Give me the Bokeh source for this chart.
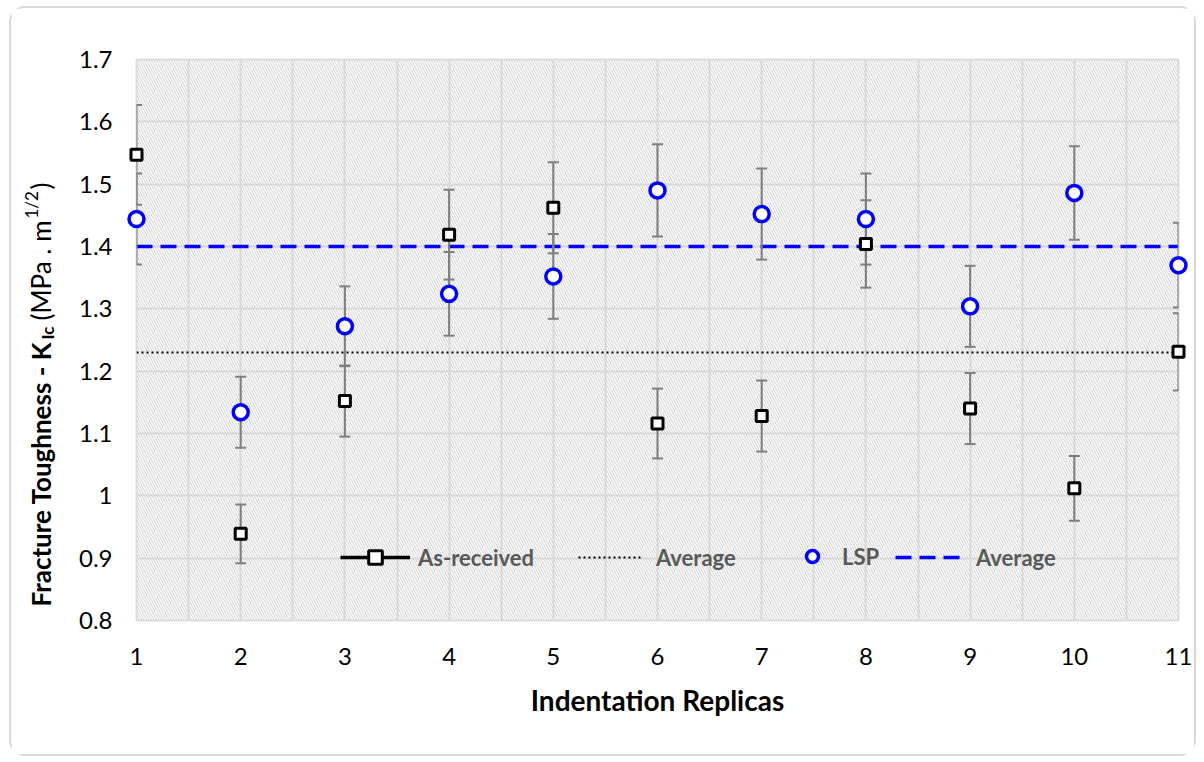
import numpy as np
from bokeh.plotting import figure
from bokeh.models import (ColumnDataSource, Whisker, TeeHead, Legend, LegendItem,
                          FixedTicker, CustomJSTickFormatter, BoxAnnotation)
from bokeh.core.properties import value
from bokeh.embed import file_html
from bokeh.resources import INLINE

# ---------------- data ----------------
replicas = [1, 2, 3, 4, 5, 6, 7, 8, 9, 10, 11]
as_received = [1.547, 0.939, 1.152, 1.419, 1.462, 1.116, 1.128, 1.404, 1.140, 1.012, 1.231]
as_received_err = [0.080, 0.047, 0.057, 0.072, 0.073, 0.056, 0.057, 0.070, 0.057, 0.052, 0.062]
lsp = [1.444, 1.134, 1.272, 1.324, 1.352, 1.490, 1.452, 1.444, 1.304, 1.486, 1.370]
lsp_err = [0.073, 0.057, 0.064, 0.067, 0.068, 0.074, 0.073, 0.073, 0.065, 0.075, 0.068]
avg_as_received = 1.23
avg_lsp = 1.40
y_ticks = [0.8, 0.9, 1.0, 1.1, 1.2, 1.3, 1.4, 1.5, 1.6, 1.7]
legend_labels = ["As-received", "Average", "LSP", "Average"]
x_title = "Indentation Replicas"
y_title_parts = ["Fracture Toughness - K", "Ic", "(MPa . m", "1/2", ")"]

FONT = "Lato"
GRID = "#dedede"

p = figure(width=1187, height=750,
           x_range=(replicas[0], replicas[-1]), y_range=(y_ticks[0], y_ticks[-1]),
           output_backend="svg", toolbar_location=None,
           min_border_left=125, min_border_right=20, min_border_top=51, min_border_bottom=138)
p.styles = {"border": "2px solid #d9d9d9", "border-radius": "16px",
            "margin-left": "9px", "margin-top": "6px"}
p.background_fill_color = "white"
p.border_fill_color = "white"
p.outline_line_color = GRID
p.outline_line_width = 2

# hatched plot area
p.add_layout(BoxAnnotation(fill_alpha=0, line_alpha=0, hatch_pattern="\\",
                           hatch_color="#d0d0d0", hatch_scale=5, hatch_weight=1,
                           level="underlay"))

# grids
p.xgrid.ticker = FixedTicker(ticks=[r + d for r in replicas for d in (0.0, 0.5)])
p.ygrid.ticker = FixedTicker(ticks=y_ticks)
for g in (p.xgrid[0], p.ygrid[0]):
    g.grid_line_color = GRID
    g.grid_line_width = 2

# axes
p.xaxis.ticker = FixedTicker(ticks=replicas)
p.yaxis.ticker = FixedTicker(ticks=y_ticks)
p.yaxis.formatter = CustomJSTickFormatter(code="return String(Math.round(tick*10)/10)")
for ax in (p.xaxis[0], p.yaxis[0]):
    ax.axis_line_color = None
    ax.major_tick_line_color = None
    ax.minor_tick_line_color = None
    ax.major_tick_out = 0
    ax.major_label_text_font = FONT
    ax.major_label_text_font_size = "24px"
    ax.major_label_text_color = "#000000"
p.yaxis[0].major_label_standoff = 24
p.xaxis[0].major_label_standoff = 27
p.xaxis[0].axis_label = x_title
p.xaxis[0].axis_label_text_font = FONT
p.xaxis[0].axis_label_text_font_size = "28px"
p.xaxis[0].axis_label_text_font_style = "bold"
p.xaxis[0].axis_label_text_color = "#000000"
p.xaxis[0].axis_label_standoff = 15

# error bars
src_a = ColumnDataSource(dict(x=replicas, y=as_received,
                              lo=[v - e for v, e in zip(as_received, as_received_err)],
                              hi=[v + e for v, e in zip(as_received, as_received_err)]))
src_l = ColumnDataSource(dict(x=replicas, y=lsp,
                              lo=[v - e for v, e in zip(lsp, lsp_err)],
                              hi=[v + e for v, e in zip(lsp, lsp_err)]))
for src in (src_a, src_l):
    w = Whisker(source=src, base="x", lower="lo", upper="hi", dimension="height",
                line_color="#7f7f7f", line_width=2, level="glyph",
                lower_head=TeeHead(size=11, line_color="#7f7f7f", line_width=2),
                upper_head=TeeHead(size=11, line_color="#7f7f7f", line_width=2))
    p.add_layout(w)

# average lines
avg_a = p.line(x=[replicas[0], replicas[-1]], y=[avg_as_received] * 2,
               line_color="black", line_width=2, line_dash="2 3")
avg_l = p.line(x=[replicas[0], replicas[-1]], y=[avg_lsp] * 2,
               line_color="#0000ff", line_width=3.5, line_dash="16 8")

# markers
sq = p.scatter("x", "y", source=src_a, marker="square", size=11,
               line_color="black", line_width=3, fill_color="white", level="overlay")
ci = p.scatter("x", "y", source=src_l, marker="circle", size=15,
               line_color="#0000ff", line_width=3.5, fill_color="white", level="overlay")
leg_line = p.line(x=[replicas[0]], y=[float("nan")], line_color="black", line_width=3.5)

def add_legend(label, renderers, x, y, gw, gh, standoff):
    lg = Legend(items=[LegendItem(label=label, renderers=renderers)],
                location=(x, y), orientation="horizontal",
                glyph_width=gw, glyph_height=gh, label_standoff=standoff,
                padding=0, margin=0, spacing=0,
                background_fill_alpha=0, border_line_alpha=0,
                label_text_font=FONT, label_text_font_size="22px",
                label_text_font_style="bold", label_text_color="#595959")
    p.add_layout(lg)

add_legend(legend_labels[0], [leg_line, sq], 204, 46, 70, 34, 8)
add_legend(legend_labels[1], [avg_a], 442, 48, 65, 30, 13)
add_legend(legend_labels[2], [ci], 661, 47, 30, 34, 15)
add_legend(legend_labels[3], [avg_l], 759, 48, 70, 30, 11)

# y axis title with subscript / superscript (rotated text pieces, pixel offsets
# from the bottom-left corner of the plot frame)
yt = dict(
    text=y_title_parts,
    size=["26px", "17px", "26px", "17px", "26px"],
    style=["bold", "bold", "normal", "normal", "normal"],
    dx=[-96, -89, -96, -105, -96],
    dy=[-14, -281, -300, -402, -431],
)
yt["x"] = [replicas[0]] * len(y_title_parts)
yt["y"] = [y_ticks[0]] * len(y_title_parts)
p.text(x="x", y="y", text="text", source=ColumnDataSource(yt),
       x_offset="dx", y_offset="dy", angle=np.pi / 2,
       text_align="left", text_baseline="middle",
       text_font=value(FONT), text_font_size="size", text_font_style="style",
       text_color="#000000", level="overlay")

open("out.html", "w").write(file_html(p, INLINE))
